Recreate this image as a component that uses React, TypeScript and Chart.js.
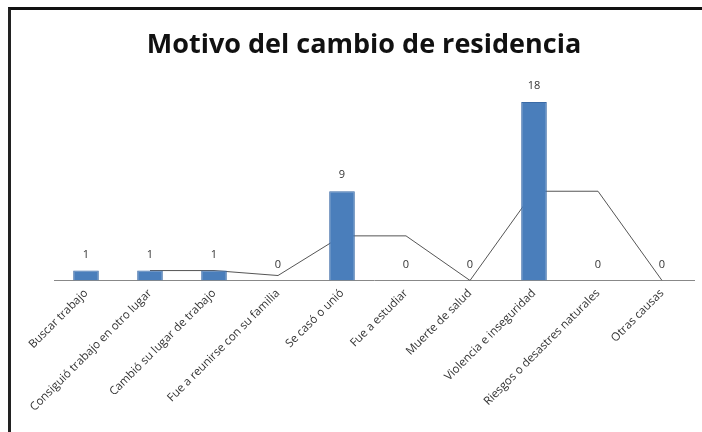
import React, { useEffect, useRef } from "react";
import { Chart, registerables } from "chart.js";

Chart.register(...registerables);

const TITLE = "Motivo del cambio de residencia";
const categories = [
  "Buscar trabajo",
  "Consiguió trabajo en otro lugar",
  "Cambió su lugar de trabajo",
  "Fue a reunirse con su familia",
  "Se casó o unió",
  "Fue a estudiar",
  "Muerte de salud",
  "Violencia e inseguridad",
  "Riesgos o desastres naturales",
  "Otras causas",
];
const counts = [1, 1, 1, 0, 9, 0, 0, 18, 0, 0];
// 2-period moving average trendline as drawn in the picture
const trendValues: (number | null)[] = [null, 1, 1, 0.5, 4.5, 4.5, 0, 9, 9, 0];

const valueLabels = {
  id: "valueLabels",
  afterDatasetsDraw(chart: any) {
    const ctx = chart.ctx;
    const meta = chart.getDatasetMeta(0);
    ctx.save();
    ctx.font = "11px 'Open Sans', sans-serif";
    ctx.fillStyle = "#333";
    ctx.textAlign = "center";
    ctx.textBaseline = "middle";
    meta.data.forEach((el: any, i: number) => {
      ctx.fillText(String(counts[i]), el.x, el.y - 16);
    });
    ctx.restore();
  },
};

const titlePlugin = {
  id: "customTitle",
  afterDraw(chart: any) {
    const ctx = chart.ctx;
    ctx.save();
    ctx.font = "bold 27px 'Open Sans', sans-serif";
    ctx.fillStyle = "#111";
    ctx.textAlign = "center";
    ctx.textBaseline = "middle";
    ctx.fillText(TITLE, 364, 45);
    ctx.restore();
  },
};

export default function App() {
  const ref = useRef<HTMLCanvasElement>(null);
  useEffect(() => {
    if (!ref.current) return;
    const chart = new Chart(ref.current, {
      type: "bar",
      data: {
        labels: categories,
        datasets: [
          {
            type: "bar",
            data: counts,
            backgroundColor: "#4a7ebb",
            borderColor: "#3a6aa6",
            borderWidth: 1,
            categoryPercentage: 1,
            barPercentage: 0.4,
            order: 1,
          },
          {
            type: "line",
            data: trendValues,
            borderColor: "#555",
            borderWidth: 1,
            pointRadius: 0,
            tension: 0,
            order: 2,
          } as any,
        ],
      },
      options: {
        animation: false,
        responsive: false,
        layout: { padding: { left: 54, right: 8, bottom: 12, top: 102 } },
        plugins: {
          legend: { display: false },
          tooltip: { enabled: false },
          title: { display: false },
        },
        scales: {
          x: {
            grid: { display: false, drawTicks: false },
            border: { color: "#888", width: 1 },
            ticks: {
              minRotation: 45,
              maxRotation: 45,
              autoSkip: false,
              color: "#333",
              padding: 6,
              font: { family: "'Open Sans', sans-serif", size: 11.5 },
            },
          },
          y: {
            display: false,
            min: 0,
            max: 18,
          },
        },
      },
      plugins: [valueLabels, titlePlugin],
    });
    return () => chart.destroy();
  }, []);
  return (
    <div style={{ position: "absolute", left: 0, top: 0, width: 702, height: 432, background: "#fff" }}>
      <canvas ref={ref} width={702} height={432} style={{ position: "absolute", left: 0, top: 0 }} />
      <div
        style={{
          position: "absolute",
          left: 8,
          top: 7,
          width: 694,
          height: 425,
          borderTop: "3px solid #111",
          borderLeft: "3px solid #222",
          boxSizing: "border-box",
          pointerEvents: "none",
        }}
      />
    </div>
  );
}
